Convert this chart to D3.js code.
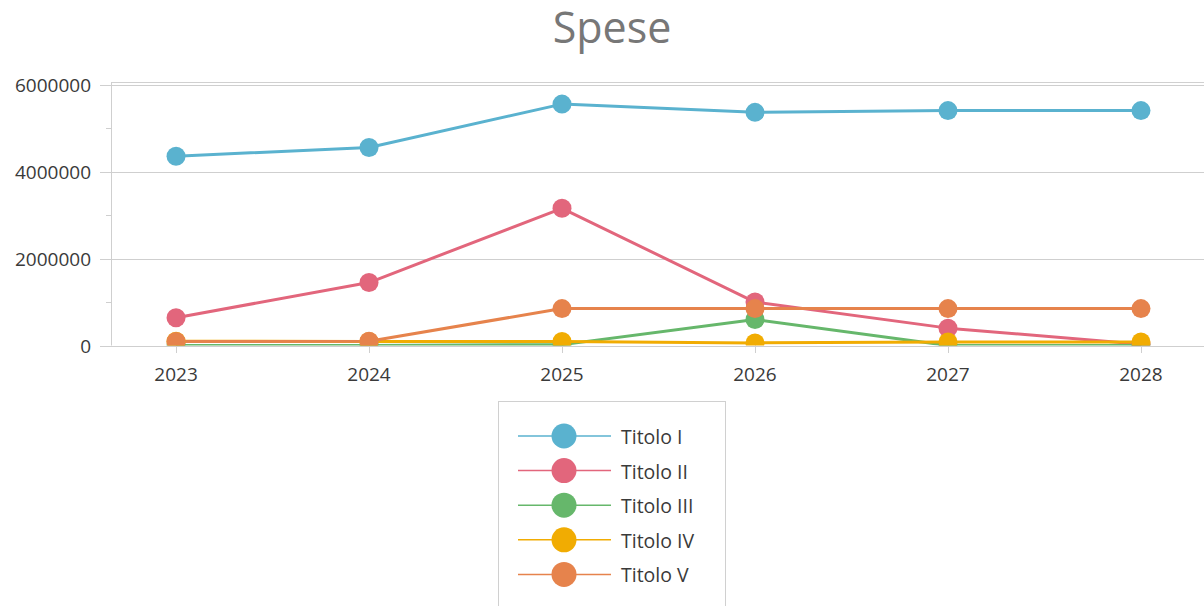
<!DOCTYPE html>
<html><head><meta charset="utf-8">
<script src="https://cdn.jsdelivr.net/npm/d3@7/dist/d3.min.js"></script>
<style>
html,body{margin:0;padding:0;background:#fff;}
svg{display:block;font-family:"Open Sans","DejaVu Sans",sans-serif;}
</style></head><body>
<svg id="c" width="1204" height="606"></svg>
<script>
const years = ["2023","2024","2025","2026","2027","2028"];
const seriesNames = ["Titolo I","Titolo II","Titolo III","Titolo IV","Titolo V"];
const titoloI   = [4360000, 4560000, 5560000, 5370000, 5410000, 5410000];
const titoloII  = [640000, 1450000, 3160000, 1000000, 400000, 30000];
const titoloIII = [0, 0, 20000, 600000, 0, 0];
const titoloIV  = [100000, 90000, 90000, 60000, 80000, 80000];
const titoloV   = [90000, 100000, 850000, 850000, 850000, 850000];
const yTicks = [0, 2000000, 4000000, 6000000];
const yMinorTicks = [1000000, 3000000, 5000000];
const colors = ["#5ab2cf", "#e2667c", "#66b76b", "#f1ac02", "#e6834c"];

const seriesValues = [titoloI, titoloII, titoloIII, titoloIV, titoloV];
const svg = d3.select("#c");
const pLeft = 111, pRight = 1206, pTop = 82.5, pBottom = 345.5;

const x = d3.scalePoint().domain(years).range([pLeft, pRight]).padding(0.337);
const y = d3.scaleLinear().domain([0, 6000000]).range([pBottom, 85]);

// title
svg.append("text").attr("x", 612).attr("y", 43).attr("text-anchor", "middle")
  .attr("font-size", 43).attr("fill", "#777").text("Spese");

// top border
svg.append("line").attr("x1", pLeft).attr("x2", 1204).attr("y1", pTop).attr("y2", pTop)
  .attr("stroke", "#d0d0d0").attr("stroke-width", 1);

// grid lines
const grid = svg.append("g");
grid.selectAll("line.g").data(yTicks).join("line").attr("class","g")
  .attr("x1", 100).attr("x2", 1204)
  .attr("y1", d => Math.round(y(d)) + 0.5).attr("y2", d => Math.round(y(d)) + 0.5)
  .attr("stroke", "#cfcfcf").attr("stroke-width", 1);
grid.selectAll("line.m").data(yMinorTicks).join("line").attr("class","m")
  .attr("x1", 106).attr("x2", pLeft)
  .attr("y1", d => Math.round(y(d)) + 0.5).attr("y2", d => Math.round(y(d)) + 0.5)
  .attr("stroke", "#cfcfcf");

// left axis line
svg.append("line").attr("x1", pLeft + 0.5).attr("x2", pLeft + 0.5).attr("y1", pTop).attr("y2", pBottom)
  .attr("stroke", "#cfcfcf");

// y labels
svg.append("g").selectAll("text").data(yTicks).join("text")
  .attr("x", 91).attr("y", d => y(d) + 7).attr("text-anchor", "end")
  .attr("font-size", 19).attr("fill", "#3a3a3a").text(d => d3.format("d")(d));

// x axis ticks & labels
const xa = svg.append("g");
xa.selectAll("line").data(years).join("line")
  .attr("x1", d => Math.round(x(d)) + 0.5).attr("x2", d => Math.round(x(d)) + 0.5)
  .attr("y1", pBottom).attr("y2", 353).attr("stroke", "#cfcfcf");
xa.selectAll("text").data(years).join("text")
  .attr("x", d => x(d)).attr("y", 381).attr("text-anchor", "middle")
  .attr("font-size", 19).attr("fill", "#3a3a3a").text(d => d);

// clip
svg.append("clipPath").attr("id", "plot").append("rect")
  .attr("x", pLeft).attr("y", 60).attr("width", 1204 - pLeft).attr("height", pBottom - 60);

const plot = svg.append("g").attr("clip-path", "url(#plot)");
const line = d3.line().x((d, i) => x(years[i])).y(d => y(d));

seriesValues.forEach((vals, si) => {
  plot.append("path").datum(vals).attr("d", line)
    .attr("fill", "none").attr("stroke", colors[si]).attr("stroke-width", 3)
    .attr("stroke-linejoin", "round");
});
seriesValues.forEach((vals, si) => {
  plot.append("g").selectAll("circle").data(vals).join("circle")
    .attr("cx", (d, i) => x(years[i])).attr("cy", d => y(d)).attr("r", 9.5)
    .attr("fill", colors[si]);
});

// legend
const lg = svg.append("g");
lg.append("rect").attr("x", 498.5).attr("y", 401.5).attr("width", 227).attr("height", 220)
  .attr("fill", "#fff").attr("stroke", "#d0d0d0");
seriesNames.forEach((name, i) => {
  const cy = 436 + i * 34.6;
  lg.append("line").attr("x1", 518).attr("x2", 611).attr("y1", cy).attr("y2", cy)
    .attr("stroke", colors[i]).attr("stroke-width", 1.5);
  lg.append("circle").attr("cx", 564).attr("cy", cy).attr("r", 12.5).attr("fill", colors[i]);
  lg.append("text").attr("x", 621).attr("y", cy + 8).attr("font-size", 19.5)
    .attr("fill", "#3a3a3a").text(name);
});
</script>
</body></html>
